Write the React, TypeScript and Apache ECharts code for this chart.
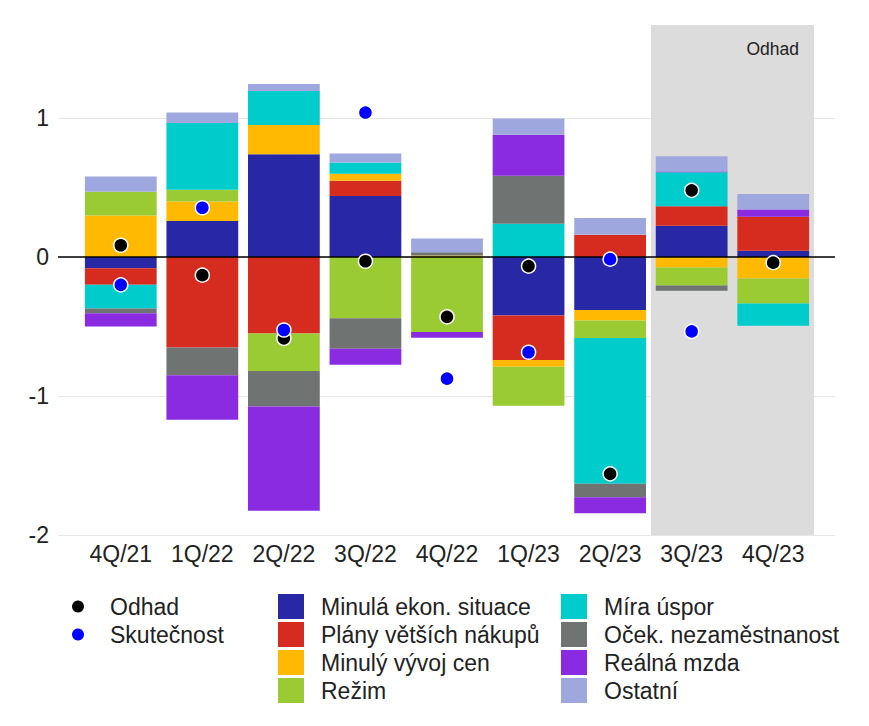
import { useEffect, useRef } from 'react';
import * as echarts from 'echarts';

// Quarters on the x axis
const categories = ['4Q/21', '1Q/22', '2Q/22', '3Q/22', '4Q/22', '1Q/23', '2Q/23', '3Q/23', '4Q/23'];

// Contributions (stacked bars)
const minulaEkonSituace = [-0.08, 0.26, 0.74, 0.44, 0, -0.42, -0.38, 0.225, 0.045];
const planyNakupu = [-0.12, -0.65, -0.55, 0.11, 0, -0.32, 0.16, 0.14, 0.245];
const minulyVyvojCen = [0.3, 0.14, 0.21, 0.05, 0.012, -0.05, -0.077, -0.075, -0.155];
const rezim = [0.17, 0.085, -0.27, -0.44, -0.54, -0.28, -0.125, -0.13, -0.18];
const miraUspor = [-0.17, 0.48, 0.245, 0.08, 0, 0.24, -1.05, 0.245, -0.16];
const ocekNezamestnanost = [-0.035, -0.2, -0.255, -0.22, 0.022, 0.345, -0.096, -0.038, 0];
const realnaMzda = [-0.095, -0.32, -0.75, -0.115, -0.04, 0.295, -0.115, 0.006, 0.053];
const ostatni = [0.11, 0.075, 0.05, 0.065, 0.1, 0.117, 0.122, 0.11, 0.11];

// Dots
const odhad = [0.085, -0.13, -0.585, -0.03, -0.43, -0.065, -1.56, 0.48, -0.04];
const skutecnost = [-0.2, 0.355, -0.525, 1.04, -0.875, -0.685, -0.015, -0.535, null];

// Forecast band (first and last shaded quarter)
const forecastLabel = 'Odhad';
const forecastFrom = '3Q/23';
const forecastTo = '4Q/23';

const barDefs = [
  { name: 'Minulá ekon. situace', data: minulaEkonSituace, color: '#2828A6' },
  { name: 'Plány větších nákupů', data: planyNakupu, color: '#D62B1F' },
  { name: 'Minulý vývoj cen', data: minulyVyvojCen, color: '#FFB900' },
  { name: 'Režim', data: rezim, color: '#9BCB32' },
  { name: 'Míra úspor', data: miraUspor, color: '#00CCCC' },
  { name: 'Oček. nezaměstnanost', data: ocekNezamestnanost, color: '#6F7372' },
  { name: 'Reálná mzda', data: realnaMzda, color: '#8A2BE2' },
  { name: 'Ostatní', data: ostatni, color: '#9FA8DE' },
];

const FONT = 'Arial, "Liberation Sans", Helvetica, sans-serif';
const TEXT = '#222222';

export default function App() {
  const chartRef = useRef<HTMLDivElement>(null);

  useEffect(() => {
    if (!chartRef.current) return;
    document.body.style.margin = '0';

    const chart = echarts.init(chartRef.current, null, { renderer: 'svg' });

    const legendText = {
      color: TEXT,
      fontSize: 23,
      fontFamily: FONT,
      lineHeight: 25,
      padding: [0, 0, 0, 12],
    };

    const bars: any[] = barDefs.map((b, i) => ({
      type: 'bar',
      name: b.name,
      data: b.data,
      stack: 'total',
      barWidth: '88%',
      xAxisIndex: 0,
      yAxisIndex: 0,
      itemStyle: { color: b.color },
      emphasis: { disabled: true },
      ...(i === 0
        ? {
            markArea: {
              silent: true,
              itemStyle: { color: '#DCDCDC' },
              label: {
                show: true,
                position: 'insideTopRight',
                distance: 15,
                formatter: forecastLabel,
                color: TEXT,
                fontSize: 17.5,
                fontFamily: FONT,
              },
              data: [[{ xAxis: forecastFrom }, { xAxis: forecastTo }]],
            },
          }
        : {}),
    }));

    const option: echarts.EChartsOption = {
      animation: false,
      backgroundColor: '#ffffff',
      textStyle: { fontFamily: FONT },
      grid: [
        { left: 80, right: 55, top: 25, bottom: 191 },
        { left: 58, right: 34, top: 25, bottom: 191 },
      ],
      xAxis: [
        {
          type: 'category',
          gridIndex: 0,
          data: categories,
          axisLine: { show: false },
          axisTick: { show: false },
          axisLabel: { color: TEXT, fontSize: 23, fontFamily: FONT, margin: 7 },
        },
        { type: 'value', gridIndex: 1, min: 0, max: 1, show: false },
      ],
      yAxis: [
        { type: 'value', gridIndex: 0, min: -2, max: 1.67, show: false, splitLine: { show: false } },
        {
          type: 'value',
          gridIndex: 1,
          min: -2,
          max: 1.67,
          interval: 1,
          axisLine: { show: false },
          axisTick: { show: false },
          axisLabel: {
            color: TEXT,
            fontSize: 23,
            fontFamily: FONT,
            margin: 9,
            showMaxLabel: false,
            formatter: (v: number) => (Number.isInteger(v) ? String(v) : ''),
          },
          splitLine: {
            show: true,
            showMaxLine: false,
            lineStyle: { color: '#E6E6E6', width: 1 },
          },
        },
      ],
      legend: [
        {
          orient: 'vertical',
          left: 72,
          top: 594,
          padding: 0,
          itemWidth: 12,
          itemHeight: 25,
          itemGap: 3,
          selectedMode: false,
          itemStyle: { borderWidth: 0 },
          textStyle: { ...legendText, padding: [0, 0, 0, 21] },
          data: [
            { name: 'Odhad', icon: 'circle' },
            { name: 'Skutečnost', icon: 'circle' },
          ],
        },
        {
          orient: 'vertical',
          left: 278,
          top: 594,
          padding: 0,
          itemWidth: 26,
          itemHeight: 25,
          itemGap: 3,
          icon: 'rect',
          selectedMode: false,
          textStyle: legendText,
          data: barDefs.slice(0, 4).map(b => b.name),
        },
        {
          orient: 'vertical',
          left: 561,
          top: 594,
          padding: 0,
          itemWidth: 26,
          itemHeight: 25,
          itemGap: 3,
          icon: 'rect',
          selectedMode: false,
          textStyle: legendText,
          data: barDefs.slice(4).map(b => b.name),
        },
      ],
      series: [
        ...bars,
        {
          type: 'line',
          name: 'zero',
          xAxisIndex: 1,
          yAxisIndex: 1,
          data: [],
          silent: true,
          markLine: {
            silent: true,
            symbol: 'none',
            label: { show: false },
            lineStyle: { color: '#000000', width: 1.5, type: 'solid' },
            data: [{ yAxis: 0 }],
          },
        },
        {
          type: 'scatter',
          name: 'Odhad',
          data: odhad,
          xAxisIndex: 0,
          yAxisIndex: 0,
          symbolSize: 14,
          z: 6,
          itemStyle: { color: '#000000', borderColor: '#ffffff', borderWidth: 1.5, opacity: 1 },
          emphasis: { disabled: true },
        },
        {
          type: 'scatter',
          name: 'Skutečnost',
          data: skutecnost,
          xAxisIndex: 0,
          yAxisIndex: 0,
          symbolSize: 14,
          z: 6,
          itemStyle: { color: '#0000FF', borderColor: '#ffffff', borderWidth: 1.5, opacity: 1 },
          emphasis: { disabled: true },
        },
      ],
    };

    chart.setOption(option);

    return () => {
      chart.dispose();
    };
  }, []);

  return <div ref={chartRef} style={{ width: 869, height: 726 }} />;
}
